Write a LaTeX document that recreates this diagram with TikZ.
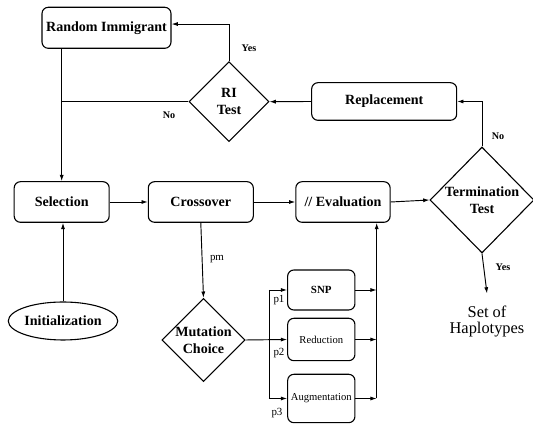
\documentclass[tikz,border=0pt]{standalone}
\usepackage{fontspec}
\setmainfont{Liberation Serif}
\usetikzlibrary{shapes.geometric,arrows.meta}

\def\thepx{0.64pt}

\begin{document}
\begin{tikzpicture}[
    x=\thepx,y=-\thepx,
    procbox/.style={draw,rounded corners=4pt,line width=0.7pt,inner sep=0pt,
      align=center,font=\bfseries\fontsize{9}{11}\selectfont},
    mutbox/.style={procbox,font=\fontsize{6.8}{8}\selectfont},
    decision/.style={draw,diamond,aspect=1,inner sep=0pt,line width=0.7pt,
      align=center,font=\bfseries\fontsize{9}{11}\selectfont},
    flowarrow/.style={-{Latex[length=4pt,width=2.6pt]},line width=0.6pt},
    flowline/.style={line width=0.6pt},
    answer/.style={font=\bfseries\fontsize{6.5}{8}\selectfont},
    prob/.style={font=\fontsize{7}{8}\selectfont}
    ]
    \useasboundingbox (0,0) rectangle (533,429);

    % main loop
    \node[procbox,minimum width=129*\thepx,minimum height=41*\thepx] (rim) at (106.5,27.8) {Random Immigrant};
    \node[decision,minimum width=80*\thepx,minimum height=80*\thepx] (ri) at (229,101.7) {RI\\Test};
    \node[procbox,minimum width=145*\thepx,minimum height=37.6*\thepx] (repl) at (384.2,101.5) {Replacement};
    \node[procbox,minimum width=95*\thepx,minimum height=40.6*\thepx] (sel) at (61.7,202) {Selection};
    \node[procbox,minimum width=105*\thepx,minimum height=40.6*\thepx] (cross) at (200.8,202) {Crossover};
    \node[procbox,minimum width=94.3*\thepx,minimum height=40.6*\thepx] (eval) at (343,202) {// Evaluation};
    \node[decision,minimum width=104*\thepx,minimum height=106*\thepx] (term) at (482,200) {Termination\\Test};
    \node[draw,ellipse,line width=0.7pt,inner sep=0pt,minimum width=108*\thepx,minimum height=38*\thepx,
      font=\bfseries\fontsize{9}{11}\selectfont] (init) at (63,321) {Initialization};
    \node[anchor=north,inner xsep=0pt,inner ysep=8pt,align=center,font=\fontsize{10.5}{10}\selectfont]
      (haplo) at (487,293.5) {Set of\\Haplotypes};

    % mutation
    \node[decision,minimum width=80.7*\thepx,minimum height=80*\thepx] (mut) at (203.5,340) {Mutation\\Choice};
    \node[mutbox,minimum width=67.3*\thepx,minimum height=40*\thepx,font=\bfseries\fontsize{7}{8}\selectfont] (snp) at (321.3,290) {SNP};
    \node[mutbox,minimum width=67.3*\thepx,minimum height=42.4*\thepx] (red) at (321.3,339.5) {Reduction};
    \node[mutbox,minimum width=67.3*\thepx,minimum height=48.4*\thepx] (aug) at (321.3,398.5) {Augmentation};
    \coordinate (split) at (269,340);
    \coordinate (join) at (376.7,340);

    \draw[flowarrow] (ri.north) |- ([yshift=2.4pt]rim.east);
    \draw[flowline] (ri.west) -- (ri.west -| sel.north);
    \draw[flowarrow] (sel.north |- rim.south) -- (sel.north);
    \draw[flowarrow] (init.north) -- (init.north |- sel.south);
    \draw[flowarrow] (sel.east) -- (cross.west);
    \draw[flowarrow] (cross.east) -- (eval.west);
    \draw[flowarrow] (eval.east) -- (term.west);
    \draw[flowarrow] (term.north) |- (repl.east);
    \draw[flowarrow] (repl.west) -- (ri.east);
    \draw[flowarrow] (term.south) -- (haplo.north);
    \draw[flowarrow] (cross.south) -- (mut.north);

    \draw[flowarrow] (mut.east) -- (red.west);
    \draw[flowline] (split |- snp.west) -- (split |- aug.west);
    \foreach \m in {snp,aug} {
      \draw[flowarrow] (split |- \m.west) -- (\m.west);
    }
    \foreach \m in {snp,red,aug} {
      \draw[flowarrow] (\m.east) -- (join |- \m.east);
    }
    \draw[flowarrow] (join |- aug.east) -- (join |- eval.south);

    % labels
    \node[answer] (riyes) at (249,48) {Yes};
    \node[answer] (rino) at (169,115) {No};
    \node[answer] (termno) at (498,136) {No};
    \node[answer] (termyes) at (503,267) {Yes};
    \node[prob] (pm) at (217,259) {pm};
    \node[prob] (pone) at (279,300) {p1};
    \node[prob] (ptwo) at (279,353) {p2};
    \node[prob] (pthree) at (277,413) {p3};
  \end{tikzpicture}
\end{document}
